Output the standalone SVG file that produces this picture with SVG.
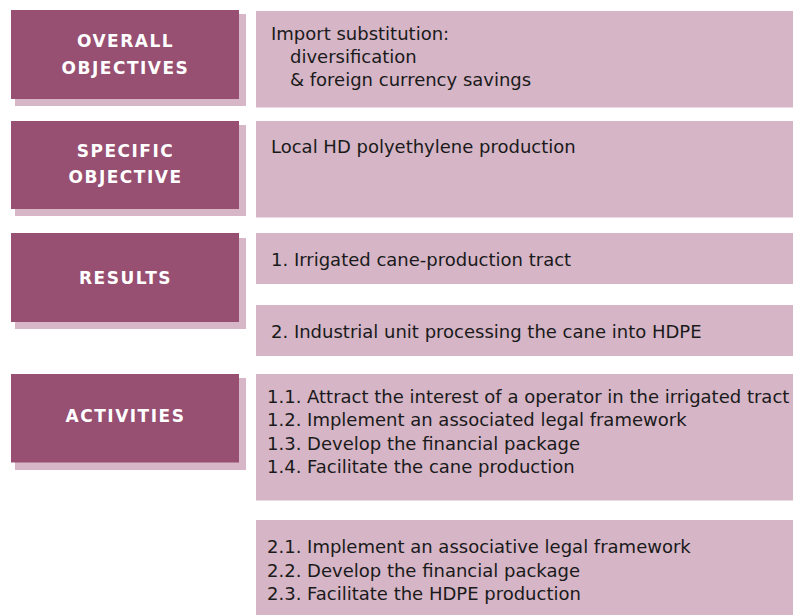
<svg xmlns="http://www.w3.org/2000/svg" width="793" height="615" viewBox="0 0 793 615">
<style>
.lab{fill:#974f72}
.sh{fill:#d6b6c7}
.box{fill:#d5b5c6}
.lt{font-family:"DejaVu Sans","Verdana",sans-serif;font-weight:bold;font-size:17px;letter-spacing:1.5px;fill:#ffffff;text-anchor:middle}
.bt{font-family:"DejaVu Sans","Verdana",sans-serif;font-size:18px;fill:#1a1a1a}
</style>
<rect width="793" height="615" fill="#ffffff"/>
<g id="overall-objectives">
<rect class="sh" x="15" y="14" width="231" height="92"/>
<rect class="lab" x="11" y="10" width="228" height="89"/>
<text class="lt" x="125.5" y="47">OVERALL</text>
<text class="lt" x="125.5" y="74">OBJECTIVES</text>
</g>
<g id="overall-objectives-content">
<rect class="box" x="256" y="11" width="537" height="96.5"/>
<text class="bt" x="271" y="40">Import substitution:</text>
<text class="bt" x="290" y="63">diversification</text>
<text class="bt" x="290" y="86">&amp; foreign currency savings</text>
</g>
<g id="specific-objective">
<rect class="sh" x="15" y="125" width="231" height="91"/>
<rect class="lab" x="11" y="121" width="228" height="88"/>
<text class="lt" x="125.5" y="157">SPECIFIC</text>
<text class="lt" x="125.5" y="183">OBJECTIVE</text>
</g>
<g id="specific-objective-content">
<rect class="box" x="256" y="121" width="537" height="96.5"/>
<text class="bt" x="271" y="153">Local HD polyethylene production</text>
</g>
<g id="results">
<rect class="sh" x="15" y="238" width="231" height="91"/>
<rect class="lab" x="11" y="233" width="228" height="89"/>
<text class="lt" x="125.5" y="284">RESULTS</text>
</g>
<g id="result-1">
<rect class="box" x="256" y="233" width="537" height="51"/>
<text class="bt" x="271" y="266">1. Irrigated cane-production tract</text>
</g>
<g id="result-2">
<rect class="box" x="256" y="305" width="537" height="51"/>
<text class="bt" x="271" y="338">2. Industrial unit processing the cane into HDPE</text>
</g>
<g id="activities">
<rect class="sh" x="15" y="378" width="231" height="92"/>
<rect class="lab" x="11" y="374" width="228" height="88.5"/>
<text class="lt" x="125.5" y="422">ACTIVITIES</text>
</g>
<g id="activities-1">
<rect class="box" x="256" y="374" width="537" height="126.5"/>
<text class="bt" x="267" y="403">1.1. Attract the interest of a operator in the irrigated tract</text>
<text class="bt" x="267" y="426">1.2. Implement an associated legal framework</text>
<text class="bt" x="267" y="450">1.3. Develop the financial package</text>
<text class="bt" x="267" y="473">1.4. Facilitate the cane production</text>
</g>
<g id="activities-2">
<rect class="box" x="256" y="520" width="537" height="95"/>
<text class="bt" x="267" y="553">2.1. Implement an associative legal framework</text>
<text class="bt" x="267" y="577">2.2.  Develop the financial package</text>
<text class="bt" x="267" y="600">2.3. Facilitate the HDPE production</text>
</g>
</svg>
